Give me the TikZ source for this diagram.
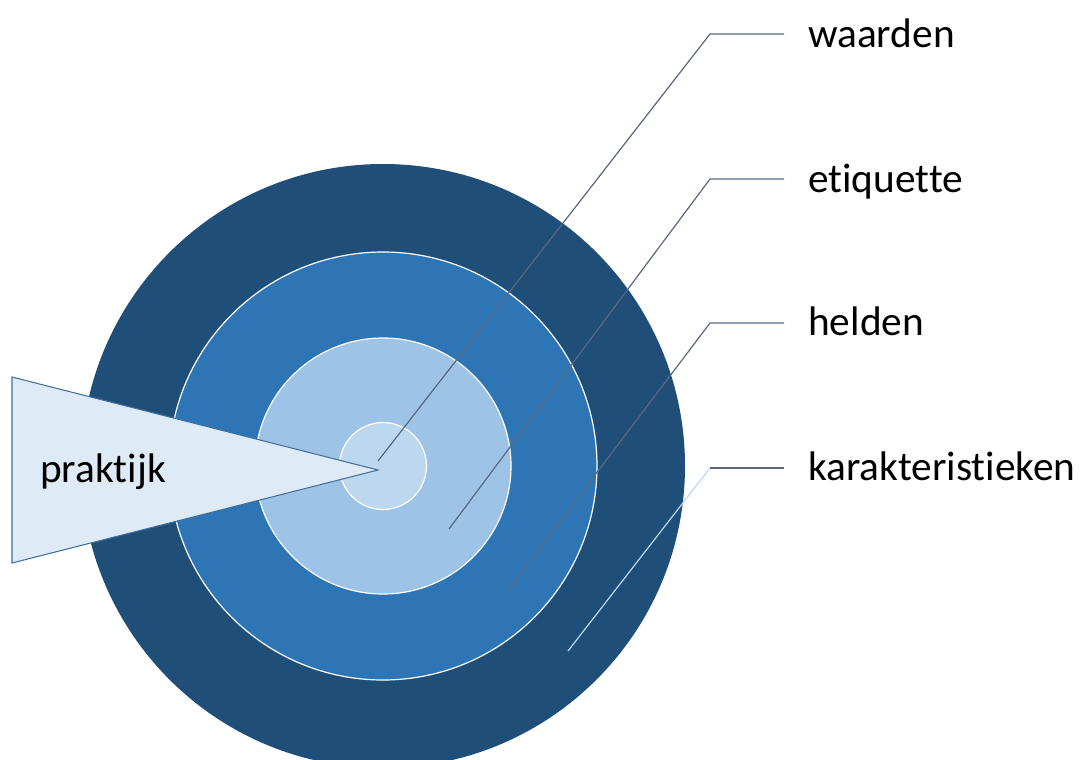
\documentclass[tikz,border=0pt]{standalone}
\usepackage{fontspec}
\setmainfont{Carlito}[Ligatures=NoCommon]
\usetikzlibrary{positioning}
\definecolor{ringA}{RGB}{31,78,121}
\definecolor{ringB}{RGB}{46,117,182}
\definecolor{ringC}{RGB}{157,195,230}
\definecolor{ringD}{RGB}{189,215,238}
\definecolor{wedge}{RGB}{222,235,247}
\definecolor{wedgeline}{RGB}{65,113,156}
\definecolor{leader}{RGB}{88,104,128}
\tikzset{
  ring/.style={draw=white, line width=0.9pt},
  lbl/.style={anchor=base west, inner sep=0pt, font=\fontsize{31}{36}\selectfont},
  leaderline/.style={leader, line width=0.9pt}
}
\begin{document}
\begin{tikzpicture}[x=0.75pt, y=-0.75pt]
        \useasboundingbox (0,0) rectangle (1085,760);
        \coordinate (mid) at (383,466);
        % rings
        \fill [ringA] (mid) circle [radius=226.5pt];
        \filldraw [ring, fill=ringB] (mid) circle [radius=160.5pt];
        \filldraw [ring, fill=ringC] (mid) circle [radius=96pt];
        \filldraw [ring, fill=ringD] (mid) circle [radius=32.6pt];
        % wedge
        \filldraw [fill=wedge, draw=wedgeline, line width=0.8pt] (12,377) -- (378,470) -- (12,563) -- cycle;
        \node [lbl] (praktijk) at (40,482) {praktijk};
        % labels
        \node [lbl] (waarden) at (808,47) {waarden};
        \node [lbl] (etiquette) at (808,192) {etiquette};
        \node [lbl] (helden) at (808,335) {helden};
        \node [lbl] (karakt) at (808,480) {karakteristieken};
        % leader lines
        \coordinate (wA) at (378,461);  \coordinate (wB) at (710,34);  \coordinate (wC) at (784,34);
        \coordinate (eA) at (449,529);  \coordinate (eB) at (710,179); \coordinate (eC) at (784,179);
        \coordinate (hA) at (508,590);  \coordinate (hB) at (710,323); \coordinate (hC) at (784,323);
        \coordinate (kA) at (568,651);  \coordinate (kB) at (710,468); \coordinate (kC) at (784,468);
        \draw [leaderline] (wA) -- (wB) -- (wC);
        \draw [leaderline] (eA) -- (eB) -- (eC);
        \draw [leaderline] (hA) -- (hB) -- (hC);
        \draw [leaderline, ringD] (kA) -- (kB);
        \draw [leaderline] (kB) -- (kC);
      \end{tikzpicture}
\end{document}
